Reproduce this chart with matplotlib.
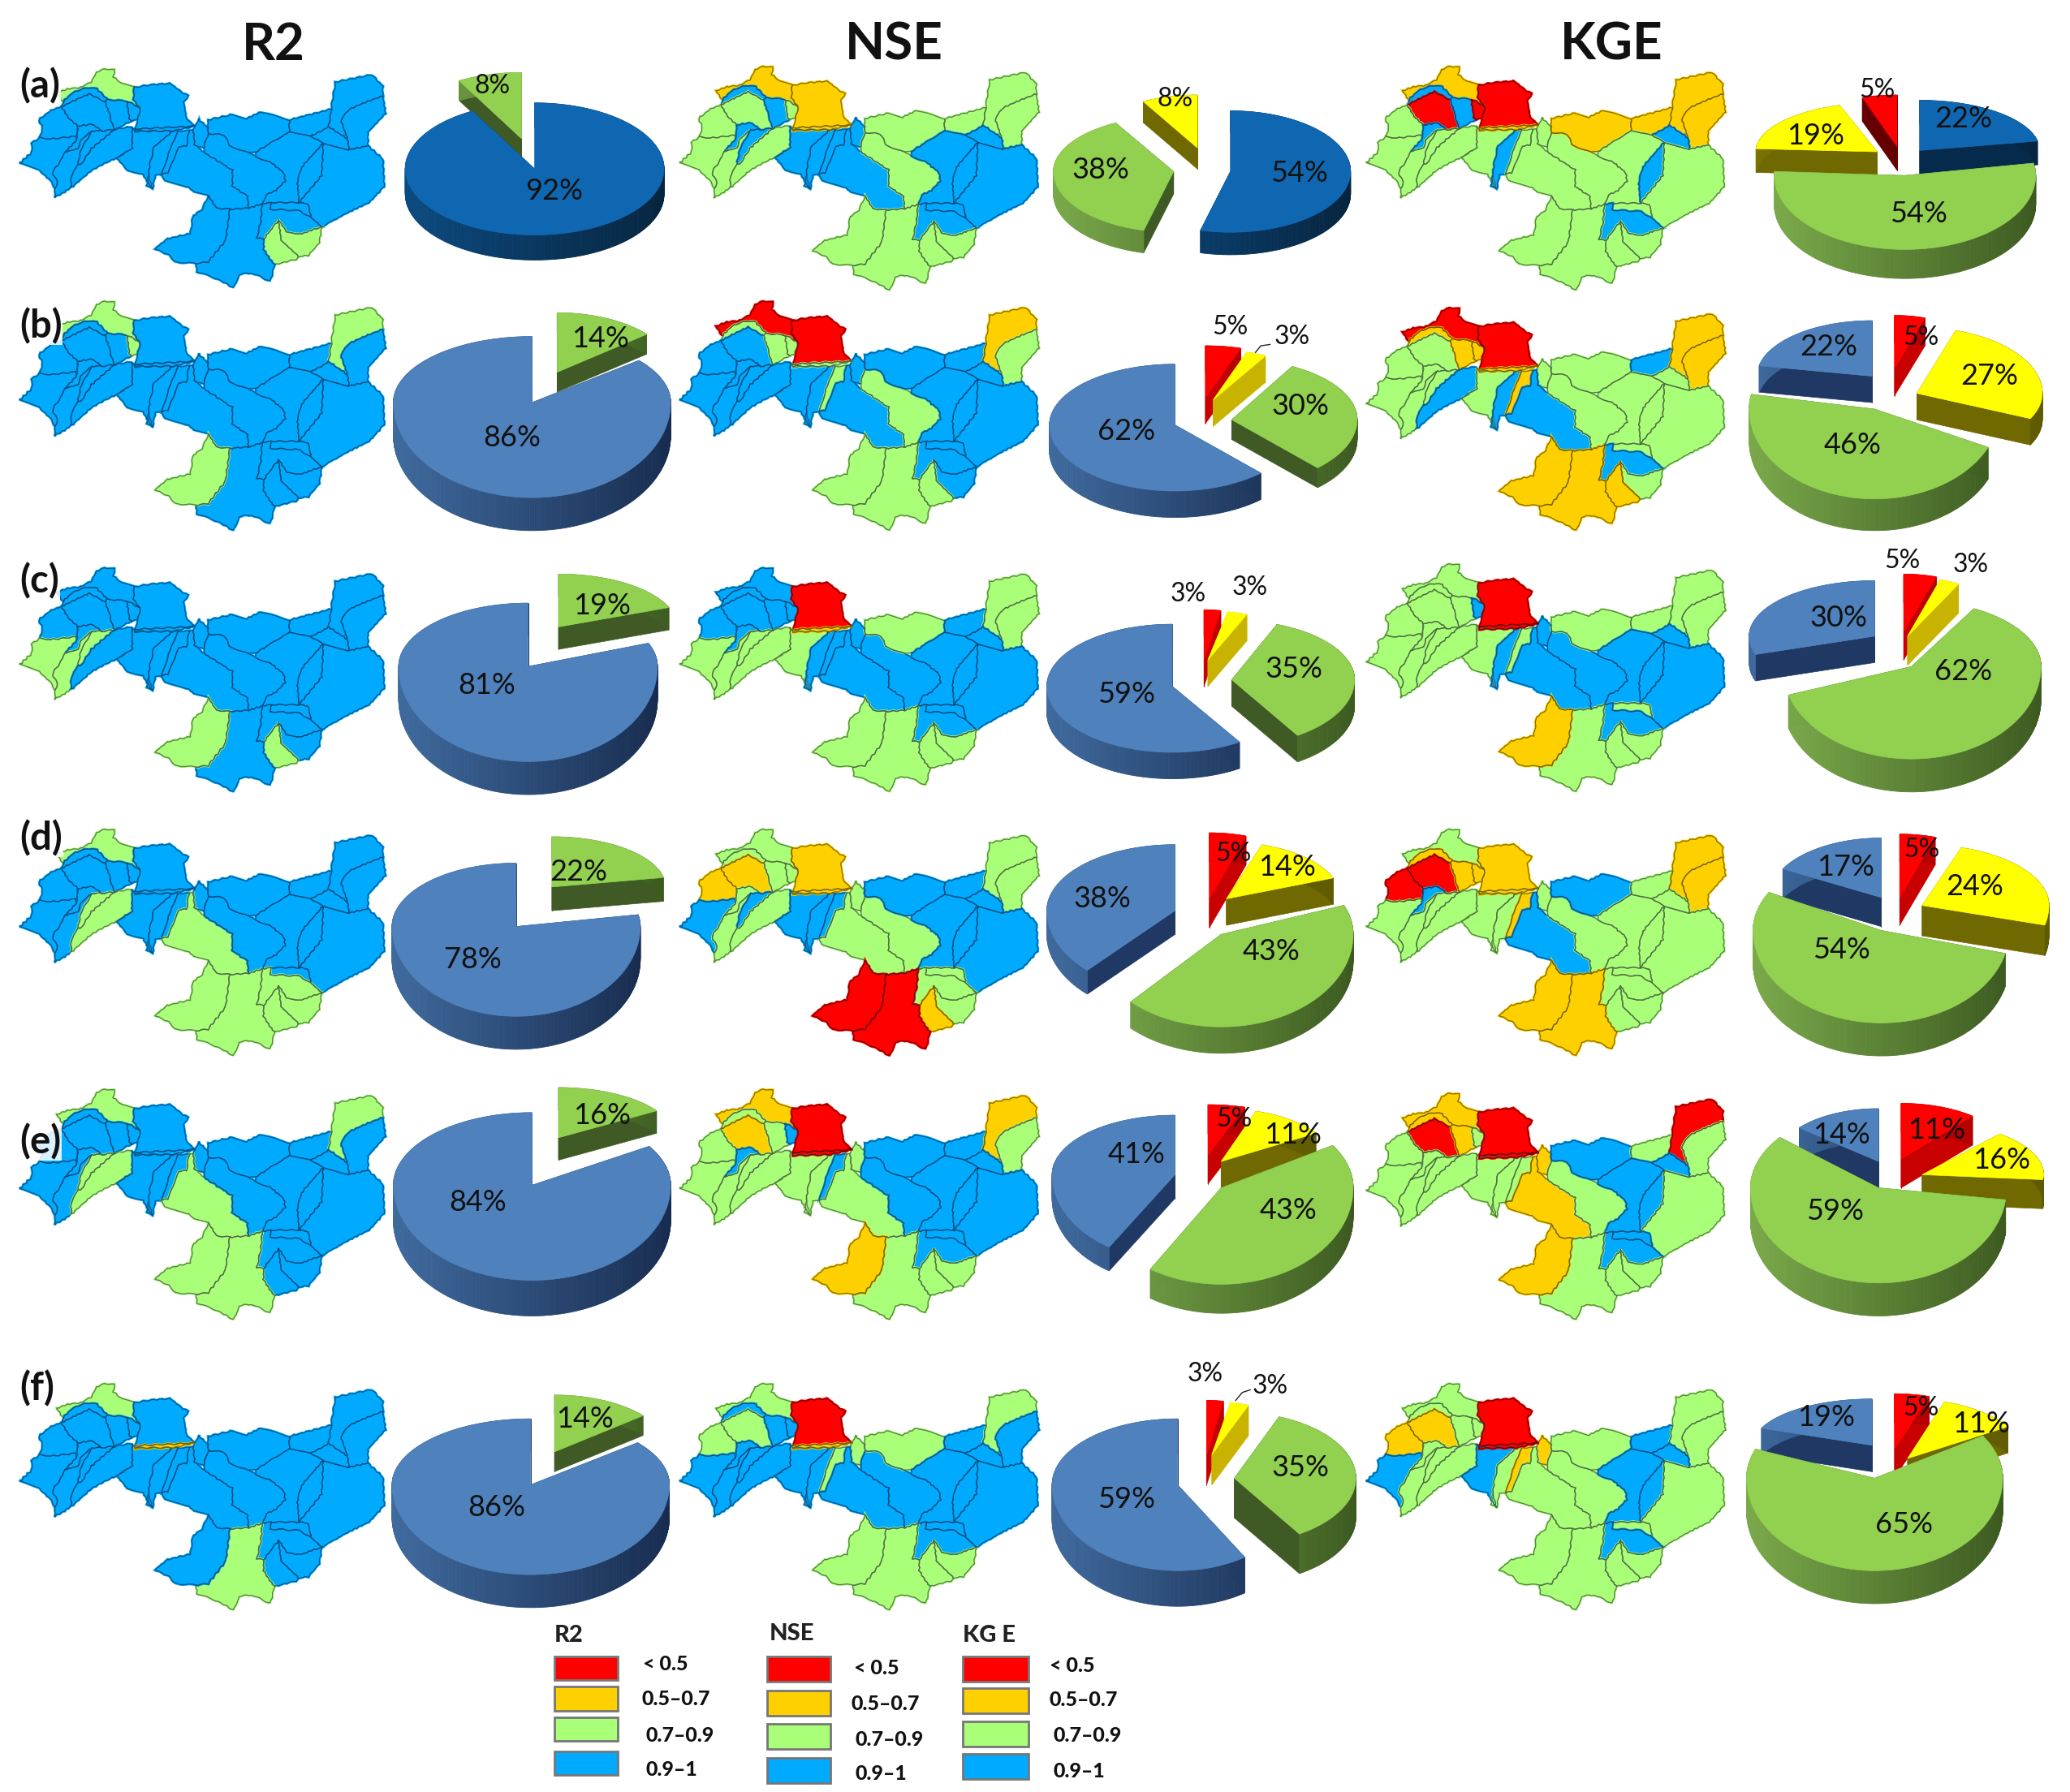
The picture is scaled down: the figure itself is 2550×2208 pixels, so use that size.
import numpy as np
import matplotlib
matplotlib.use("Agg")
import matplotlib.pyplot as plt
from matplotlib.patches import Polygon, Rectangle
from matplotlib.colors import to_rgb

# ---------- DATA ----------
metrics = ["R2", "NSE", "KGE"]
rows = ["(a)", "(b)", "(c)", "(d)", "(e)", "(f)"]
legend_labels = ["< 0.5", "0.5–0.7", "0.7–0.9", "0.9–1"]

# pie shares, clockwise from 12 o'clock: (class, percent)
r2_shares = [
    [("B", 92), ("G", 8)],
    [("G", 14), ("B", 86)],
    [("G", 19), ("B", 81)],
    [("G", 22), ("B", 78)],
    [("G", 16), ("B", 84)],
    [("G", 14), ("B", 86)],
]
nse_shares = [
    [("B", 54), ("G", 38), ("Y", 8)],
    [("R", 5), ("Y", 3), ("G", 30), ("B", 62)],
    [("R", 3), ("Y", 3), ("G", 35), ("B", 59)],
    [("R", 5), ("Y", 14), ("G", 43), ("B", 38)],
    [("R", 5), ("Y", 11), ("G", 43), ("B", 41)],
    [("R", 3), ("Y", 3), ("G", 35), ("B", 59)],
]
kge_shares = [
    [("B", 22), ("G", 54), ("Y", 19), ("R", 5)],
    [("R", 5), ("Y", 27), ("G", 46), ("B", 22)],
    [("R", 5), ("Y", 3), ("G", 62), ("B", 30)],
    [("R", 5), ("Y", 24), ("G", 54), ("B", 17)],
    [("R", 11), ("Y", 16), ("G", 59), ("B", 14)],
    [("R", 5), ("Y", 11), ("G", 65), ("B", 19)],
]

# sub-basin class per panel: (default class, {class: sub-basins})
r2_basins = [
    ("B", {"G": "nw sgw sge"}),
    ("B", {"G": "nw sm ne1 sw"}),
    ("B", {"G": "wb w2 w5 sw sgw"}),
    ("B", {"G": "nw w5 w4 m1 sw sbg sgw sge sb"}),
    ("B", {"G": "nw w5 w4 m1 sw sbg ne1"}),
    ("B", {"G": "nw sbg", "Y": "th"}),
]
nse_basins = [
    ("B", {"Y": "nw n1 th", "G": "w3 sm wt wb w2 w4 m2 n2 n3 ne1 ne2 sge sgw sbg sw"}),
    ("B", {"R": "nw n1", "G": "cr bk sm s15 m2 ne2 sgw sbg sw th", "Y": "ne1"}),
    ("B", {"R": "n1", "G": "wb w2 w5 w4 ms n2 ne1 ne2 sge sgw sbg sw", "Y": "th"}),
    ("B", {"G": "nw cr bk sm st w2 w4 s16 m1 m2 ne1 ne2 s27 sb sge", "Y": "w3 wt n1 sgw th", "R": "sbg sw"}),
    ("G", {"Y": "nw w3 ne1 sw", "R": "n1 th", "B": "sm st s15 m2 n2 n3 n4 m3 s25 e s27 sb"}),
    ("B", {"R": "n1", "G": "nw w3 wt s15 s16 n2 ne1 sge sgw sbg sw", "Y": "th"}),
]
kge_basins = [
    ("G", {"Y": "nw n2 n3 ne1 ne2 th", "B": "cr bk st lk n4 s25 sb", "R": "w3 sm n1"}),
    ("G", {"R": "nw n1", "Y": "cr bk sm s15 ne1 ne2 sgw sbg sw th", "B": "w4 lk m1 n3 sb"}),
    ("G", {"R": "n1 th", "B": "sm lk s16 m1 m2 m3 n4 s25 e sb", "Y": "sw"}),
    ("G", {"Y": "cr bk sm n1 s15 ne1 ne2 sbg sw th", "R": "w3 wt", "B": "st m1 n2"}),
    ("G", {"Y": "nw cr bk s16 m1 sw", "R": "w3 n1 ne1 th", "B": "n2 n4 m3 s25 s27 sb"}),
    ("G", {"R": "n1 th", "Y": "wt w3 s15 s16", "B": "wb ms n3 n4 m3 s25 sb"}),
]

# ---------- SHAPES (sub-basin outlines, 3x-local units) ----------
basins = {
    "nw": [(235,197),(228,190),(210,165),(250,150),(300,145),(340,125),(360,90),(385,75),(425,80),(420,105),(450,130),(497,145),(495,190),(520,222),(470,195),(400,190),(360,150),(320,145),(270,165)],
    "cr": [(235,197),(270,165),(320,145),(360,150),(400,190),(390,197),(330,168),(270,195),(228,215)],
    "w3": [(228,215),(270,195),(330,168),(390,197),(405,240),(410,265),(425,300),(380,305),(340,280),(290,288),(260,262)],
    "bk": [(400,190),(470,195),(480,260),(490,268),(450,288),(425,300),(410,265),(405,240),(390,197)],
    "sm": [(470,195),(520,222),(510,262),(490,268),(480,260)],
    "n1": [(497,145),(560,135),(630,130),(670,160),(695,175),(680,200),(690,260),(722,288),(500,298),(510,262),(520,222),(495,190)],
    "wt": [(228,215),(260,262),(290,288),(282,325),(190,335),(150,330),(160,290),(145,265),(190,230)],
    "wb": [(150,330),(190,335),(282,325),(285,340),(240,385),(215,430),(195,460),(215,490),(205,520),(190,490),(140,445),(75,425),(120,385),(120,350)],
    "st": [(290,288),(340,280),(380,305),(340,305),(300,340),(290,370),(240,385),(285,340)],
    "w2": [(240,385),(290,370),(300,340),(340,305),(300,380),(290,430),(265,470),(265,515),(205,550),(205,520),(215,490),(195,460),(215,430)],
    "w5": [(340,305),(380,305),(425,300),(340,370),(300,430),(290,430),(300,380)],
    "w4": [(300,430),(340,370),(425,300),(490,290),(490,370),(430,405),(340,450),(265,515),(265,470),(290,430)],
    "ms": [(490,290),(500,305),(640,305),(570,365),(555,430),(550,470),(565,520),(545,490),(530,465),(470,450),(435,405),(490,370)],
    "lk": [(640,305),(662,305),(625,385),(600,465),(575,470),(565,520),(545,510),(555,430),(570,365)],
    "s15": [(662,305),(700,305),(690,360),(660,365),(620,460),(600,465),(625,385)],
    "s16": [(715,300),(735,262),(765,290),(770,315),(755,370),(720,355)],
    "m1": [(715,300),(720,355),(755,385),(860,450),(860,510),(915,545),(920,590),(850,595),(800,590),(770,545),(720,530),(690,510),(610,490),(600,465),(620,460),(660,365),(690,360),(700,305)],
    "m2": [(770,315),(830,320),(850,360),(905,380),(945,400),(1000,420),(1050,460),(1055,490),(1020,525),(985,540),(970,575),(920,590),(915,545),(860,510),(860,450),(755,385),(755,370)],
    "n2": [(770,265),(860,245),(910,260),(965,235),(1070,265),(1070,310),(1000,350),(945,385),(905,380),(850,360),(830,320),(770,315)],
    "n3": [(1070,265),(1225,225),(1215,290),(1150,325),(1070,310)],
    "ne1": [(1225,225),(1240,125),(1375,98),(1415,140),(1415,175),(1290,225),(1260,265),(1285,335),(1215,290)],
    "ne2": [(1290,225),(1415,175),(1425,240),(1360,310),(1360,360),(1290,375),(1285,335),(1260,265)],
    "n4": [(1150,325),(1215,290),(1285,335),(1290,375),(1195,350)],
    "m3": [(1070,310),(1150,325),(1195,350),(1115,440),(1100,490),(1105,570),(1000,570),(970,575),(985,540),(1020,525),(1055,490),(1050,460),(1000,420),(945,400),(945,385),(1000,350)],
    "s25": [(1195,350),(1190,470),(1105,570),(1100,490),(1115,440)],
    "e": [(1195,350),(1290,375),(1360,360),(1415,410),(1420,510),(1365,570),(1260,620),(1190,660),(1150,625),(1140,575),(1105,570),(1190,470)],
    "s27": [(1000,570),(1105,570),(1140,575),(1150,625),(1105,600),(1000,595)],
    "sb": [(970,575),(1000,570),(1000,595),(1105,600),(1150,625),(1190,660),(1115,685),(1060,680),(1030,635),(975,705),(950,700),(965,640)],
    "sge": [(1030,635),(1060,680),(1115,685),(1190,660),(1180,720),(1140,765),(1105,770),(1040,710)],
    "sgw": [(1030,635),(1040,710),(1105,770),(1095,780),(1015,800),(975,745),(975,705)],
    "sbg": [(970,575),(965,640),(950,700),(975,705),(975,745),(1015,800),(1000,860),(930,830),(885,835),(865,885),(800,850),(730,825),(725,795),(770,790),(835,710),(850,595),(920,590)],
    "sw": [(770,545),(800,590),(850,595),(835,710),(770,790),(725,795),(650,790),(625,765),(575,740),(620,705),(705,685),(715,620),(750,595)],
    "th": [(500,298),(722,288),(640,305),(500,308)],
}

# ---------- LAYOUT (reference px at 1568 wide) ----------
S = 2550 / 1568
map_left = [15, 515, 1035]
map_right = [292, 787, 1307]
map_top = [[52, 228, 430, 628, 825, 1048], [50, 228, 430, 628, 825, 1048], [50, 233, 427, 628, 828, 1048]]
map_bottom = [[218, 402, 600, 800, 1000, 1220], [220, 402, 600, 800, 1000, 1220], [220, 402, 600, 800, 1000, 1220]]

# per-slice geometry: apex x, apex y, rx, back ry, front ry, depth
r2_geom = [
    [(405,128,98,50,50,19), (395,105,98,50,50,15)],
    [(422,282,88,45,45,15), (403,305,105,50,72,25)],
    [(423,475,90,40,40,17), (400,505,98,48,72,25)],
    [(418,672,86,38,38,18), (391,702,94,48,68,25)],
    [(423,862,88,38,38,17), (403,898,105,55,72,27)],
    [(420,1100,87,43,43,15), (402,1125,105,50,68,25)],
]
nse_geom = [
    [(932,130,91,46,46,17), (889,130,91,42,46,17), (907,112,85,40,40,16)],
    [(913,301,87,39,39,20), (919,303,82,38,38,20), (933,318,95,46,50,15), (890,322,95,46,50,20)],
    [(912,500,68,38,38,20), (915,500,80,37,37,20), (933,515,93,45,50,20), (888,520,95,47,50,20)],
    [(916,681,90,50,50,22), (929,681,87,43,43,20), (925,708,100,60,70,20), (890,690,97,50,62,18)],
    [(915,875,90,38,38,22), (925,880,85,40,40,22), (925,900,100,60,73,22), (890,890,93,45,65,18)],
    [(914,1102,68,41,41,23), (918,1102,75,40,40,23), (935,1120,92,50,50,30), (892,1125,95,50,65,27)],
]
kge_geom = [
    [(1454,114,91,38,40,18), (1443,133,99,50,56,22), (1422,115,92,37,37,18), (1437,111,85,39,39,18)],
    [(1435,279,75,40,40,21), (1452,298,95,50,45,20), (1420,310,95,60,68,24), (1418,285,87,42,42,20)],
    [(1442,478,80,43,43,22), (1445,482,80,45,45,22), (1448,505,98,50,70,25), (1420,482,95,42,45,20)],
    [(1439,680,87,48,48,21), (1456,686,96,46,60,23), (1425,705,97,60,70,25), (1425,680,85,45,45,22)],
    [(1440,878,85,42,42,22), (1456,890,92,40,30,22), (1423,900,97,60,72,25), (1423,880,78,40,40,25)],
    [(1435,1098,85,42,42,22), (1445,1105,90,45,45,20), (1420,1120,97,60,70,25), (1418,1095,90,35,35,20)],
]
# percent label positions, same order as the shares
r2_lab = [[(420,145),(373,65)],[(455,257),(388,332)],[(456,459),(369,519)],[(438,661),(358,727)],[(456,845),(362,911)],[(443,1075),(376,1142)]]
nse_lab = [[(984,131),(834,129),(890,75)],[(932,248),(979,255),(985,308),(853,327)],[(900,450),(947,445),(980,507),(853,526)],
           [(934,647),(975,657),(963,721),(835,681)],[(935,848),(979,860),(976,917),(861,875)],[(913,1041),(962,1050),(985,1112),(853,1136)]]
kge_lab = [[(1487,90),(1453,162),(1375,103),(1422,68)],[(1455,256),(1507,285),(1403,337),(1385,263)],[(1441,425),(1493,428),(1487,509),(1393,468)],
           [(1456,644),(1496,672),(1395,720),(1398,657)],[(1467,856),(1516,879),(1390,918),(1395,860)],[(1455,1067),(1501,1079),(1442,1155),(1383,1074)]]

map_col = {"R": "#ff0000", "Y": "#ffd000", "G": "#aaff78", "B": "#00aaff"}
map_edge = {"R": "#6a0000", "Y": "#7a6400", "G": "#4f6b45", "B": "#0a4d7d"}
pie_top = {"R": "#ff0000", "Y": "#ffff00", "G": "#92d050", "B": "#4f81bd"}
pie_wall = {"R": ("#c80000", "#b00000"), "Y": ("#7a7300", "#5f5a00"), "G": ("#7aa94a", "#3c5a20"), "B": ("#3f6a9e", "#172c4f")}
pie_cut = {"R": "#c80000", "Y": "#706800", "G": "#3f5a25", "B": "#1f3864"}
bright_blue = "#0f67b1"
bright_wall = ("#0b4a80", "#06243f")
bright_cut = "#062a4c"
dark_red = "#660000"
thin_yellow = "#c8b400"

fig = plt.figure(figsize=(25.5, 22.08), dpi=100)
ax = fig.add_axes([0, 0, 1, 1])
ax.set_xlim(0, 2550)
ax.set_ylim(2208, 0)
ax.axis("off")
FONT = "Lato"


def wiggle(pts):
    """Roughen an outline a little; same offset at shared vertices."""
    pts = list(pts) + [pts[0]]
    out = []
    for (x0, y0), (x1, y1) in zip(pts[:-1], pts[1:]):
        n = max(1, int(np.hypot(x1 - x0, y1 - y0) / 9))
        for t in np.arange(n) / n:
            x, y = x0 + (x1 - x0) * t, y0 + (y1 - y0) * t
            out.append((x + 2.2 * np.sin(0.9 * y + 0.4 * x), y + 2.2 * np.sin(0.8 * x - 0.5 * y)))
    return np.array(out)


shapes = {k: wiggle(v) for k, v in basins.items()}
order = [k for k in basins if k != "th"] + ["th"]


def draw_map(col, row, spec):
    default, over = spec
    cls = {k: default for k in basins}
    for c, names in over.items():
        for n in names.split():
            cls[n] = c
    x0, x1 = map_left[col] * S, map_right[col] * S
    y0, y1 = map_top[col][row] * S, map_bottom[col][row] * S
    sx, sy = (x1 - x0) / 1350, (y1 - y0) / 810
    for k in order:
        xy = shapes[k].copy()
        xy[:, 0] = x0 + (xy[:, 0] - 75) * sx
        xy[:, 1] = y0 + (xy[:, 1] - 75) * sy
        c = map_col[cls[k]]
        ax.add_patch(Polygon(xy, closed=True, fc=c, ec=c, lw=2.2, zorder=2))
    for k in order:
        xy = shapes[k].copy()
        xy[:, 0] = x0 + (xy[:, 0] - 75) * sx
        xy[:, 1] = y0 + (xy[:, 1] - 75) * sy
        ax.add_patch(Polygon(xy, closed=True, fc="none", ec=map_edge[cls[k]], lw=1.0, alpha=0.85, zorder=3))


def rim(g, th):
    a, b, rx, ryb, ryf, _ = g
    c = np.cos(th)
    return a + rx * np.sin(th), b - c * np.where(c > 0, ryb, ryf)


def draw_slice(g, a0, a1, top, wall, cut, z):
    d = g[5]
    th = np.radians(np.linspace(a0, a1, max(6, int(a1 - a0))))
    x, y = rim(g, th)
    apex = (g[0], g[1])
    for ang in (a0, a1):
        rx_, ry_ = rim(g, np.radians(ang))
        q = np.array([apex, (rx_, ry_), (rx_, ry_ + d), (apex[0], apex[1] + d)]) * S
        ax.add_patch(Polygon(q, fc=cut, ec=cut, lw=0.5, zorder=z))
    wl, wr = [np.array(to_rgb(c)) for c in wall]
    xmin, xmax = g[0] - g[2], g[0] + g[2]
    for i in range(len(th) - 1):
        t = (0.5 * (x[i] + x[i + 1]) - xmin) / (xmax - xmin)
        col = wl + (wr - wl) * np.clip(t, 0, 1)
        q = np.array([(x[i], y[i]), (x[i + 1], y[i + 1]), (x[i + 1], y[i + 1] + d), (x[i], y[i] + d)]) * S
        ax.add_patch(Polygon(q, fc=col, ec=col, lw=0.6, zorder=z + 0.1))
    poly = np.vstack([[apex], np.column_stack([x, y])]) * S
    ax.add_patch(Polygon(poly, fc=top, ec=top, lw=0.5, zorder=z + 0.2))


def draw_pie(shares, geom, labels, row, size=26):
    angs = np.cumsum([0] + [p for _, p in shares]) * 3.6
    idx = np.argsort([g[1] for g in geom])
    for rank, i in enumerate(idx):
        cl, p = shares[i]
        top, wall, cut = pie_top[cl], pie_wall[cl], pie_cut[cl]
        if row == 0 and cl == "B":
            top, wall, cut = bright_blue, bright_wall, bright_cut
        if row == 0 and cl == "R":
            wall, cut = (dark_red, dark_red), dark_red
        if cl == "Y" and p <= 3:
            wall, cut = (thin_yellow, thin_yellow), thin_yellow
        draw_slice(geom[i], angs[i], angs[i + 1], top, wall, cut, 5 + rank)
    for (cl, p), (x, y) in zip(shares, labels):
        fs = size - 3 if p < 10 else size
        ax.text(x * S, y * S, f"{p}%", ha="center", va="center", fontsize=fs, family=FONT, color="#111111", zorder=20)


for r in range(6):
    draw_map(0, r, r2_basins[r])
    draw_map(1, r, nse_basins[r])
    draw_map(2, r, kge_basins[r])
    draw_pie(r2_shares[r], r2_geom[r], r2_lab[r], r)
    draw_pie(nse_shares[r], nse_geom[r], nse_lab[r], r)
    draw_pie(kge_shares[r], kge_geom[r], kge_lab[r], r)

# leader ticks next to the small 3 % labels
ax.plot(np.array([951, 955, 962]) * S, np.array([267, 262, 261]) * S, color="#222222", lw=1.0, zorder=20)
ax.plot(np.array([936, 941, 947]) * S, np.array([1061, 1055, 1053]) * S, color="#222222", lw=1.0, zorder=20)

# headings
for name, x in zip(metrics, [207, 677, 1221]):
    ax.text(x * S, 34 * S, name, ha="center", va="center", fontsize=46, fontweight="bold", family=FONT, color="#111111")
for lab, y in zip(rows, [65, 247, 440, 635, 865, 1052]):
    ax.text(15 * S, y * S, lab, ha="left", va="center", fontsize=34, fontweight="bold", family=FONT, color="#111111", zorder=25,
            bbox=dict(fc="white", ec="none", pad=0.5, alpha=0.0 if lab == "(f)" else 0.85))

# legend
leg_title = [("R2", 431, 1239), ("NSE", 600, 1238), ("KG E", 749, 1239)]
leg_box = [(420, 468, [1255, 1278, 1301, 1327], 18), (581, 629, [1255, 1281, 1306, 1332], 19), (729, 779, [1255, 1279, 1304, 1329], 19)]
leg_text = [([487, 486, 489, 489], [1261, 1287, 1315, 1341]), ([647, 645, 648, 648], [1264, 1291, 1318, 1344]), ([795, 795, 798, 798], [1262, 1288, 1315, 1342])]
for (t, tx, ty), (b0, b1, ys, h), (lx, ly) in zip(leg_title, leg_box, leg_text):
    ax.text(tx * S, ty * S, t, ha="center", va="center", fontsize=21, fontweight="black", family=FONT, color="#222222")
    for c, y, lab, x2, y2 in zip("RYGB", ys, legend_labels, lx, ly):
        ax.add_patch(Rectangle((b0 * S, y * S), (b1 - b0) * S, h * S, fc=map_col[c], ec="#777777", lw=2))
        ax.text(x2 * S, y2 * S, lab, ha="left", va="center", fontsize=18, fontweight="black", family=FONT, color="#111111")

fig.savefig("out.png", dpi=100, facecolor="white")
